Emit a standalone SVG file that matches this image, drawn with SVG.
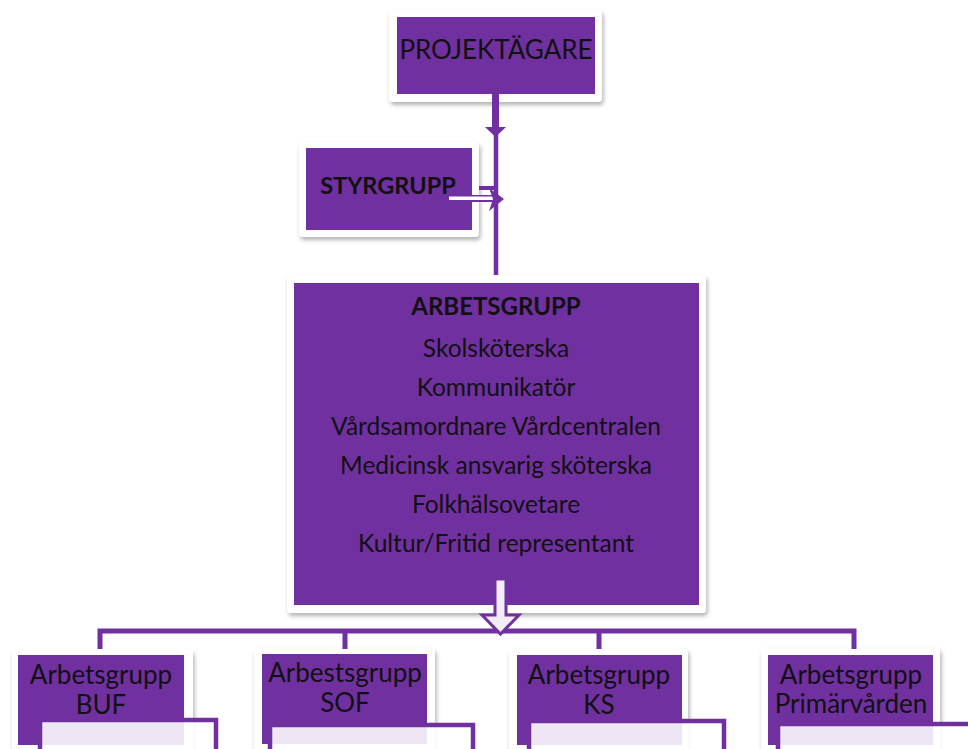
<svg xmlns="http://www.w3.org/2000/svg" width="968" height="749" viewBox="0 0 968 749">
<defs>
<filter id="sh" x="-10%" y="-10%" width="125%" height="130%">
<feDropShadow dx="1.5" dy="3" stdDeviation="2" flood-color="#000" flood-opacity="0.3"/>
</filter>
<style>
.frame{fill:#fff;filter:url(#sh)}
.box{fill:#7030a0}
.sub{fill:#fff;fill-opacity:0.88;stroke:#7030a0;stroke-width:4.5}
.t{font-family:Lato,"Open Sans",sans-serif;fill:#111;text-anchor:middle}
.b{font-weight:bold}
.ln{stroke:#7030a0;fill:none}
</style>
</defs>
<rect width="968" height="749" fill="#fff"/>

<g id="projektagare">
<rect class="frame" x="389" y="10" width="213" height="92" rx="4"/>
<rect class="box" x="397" y="17" width="198" height="77"/>
<text class="t" x="496" y="59" font-size="26">PROJEKTÄGARE</text>
</g>

<g id="styrgrupp">
<rect class="frame" x="299" y="142" width="180" height="95" rx="4"/>
<rect class="box" x="306" y="148" width="166" height="82"/>
<text class="t" x="388" y="194" font-size="23.5" font-weight="bold">STYRGRUPP</text>
</g>

<g id="arbetsgrupp">
<rect class="frame" x="287" y="275" width="419" height="338" rx="4"/>
<rect class="box" x="294" y="283" width="405" height="322"/>
<text class="t" x="496" y="315" font-size="24" font-weight="bold">ARBETSGRUPP</text>
<text class="t" x="496" y="357" font-size="24.5">Skolsköterska</text>
<text class="t" x="496" y="396" font-size="24.5">Kommunikatör</text>
<text class="t" x="496" y="435" font-size="24.5">Vårdsamordnare Vårdcentralen</text>
<text class="t" x="496" y="474" font-size="24.5">Medicinsk ansvarig sköterska</text>
<text class="t" x="496" y="513" font-size="24.5">Folkhälsovetare</text>
<text class="t" x="496" y="552" font-size="24.5">Kultur/Fritid representant</text>
</g>

<g id="buf">
<rect class="frame" x="12" y="650" width="181" height="108" rx="4"/>
<rect class="box" x="18" y="655" width="166" height="90"/>
<text class="t" x="101" y="684" font-size="26">Arbetsgrupp</text>
<text class="t" x="101" y="714" font-size="26">BUF</text>
<rect class="sub" x="40" y="720" width="176" height="50"/>
</g>

<g id="sof">
<rect class="frame" x="254" y="648" width="181" height="110" rx="4"/>
<rect class="box" x="262" y="654" width="165" height="90"/>
<text class="t" x="345" y="682" font-size="26">Arbestsgrupp</text>
<text class="t" x="345" y="712" font-size="26">SOF</text>
<rect class="sub" x="270" y="725" width="203" height="50"/>
</g>

<g id="ks">
<rect class="frame" x="509" y="649" width="179" height="110" rx="4"/>
<rect class="box" x="517" y="655" width="165" height="90"/>
<text class="t" x="599" y="684" font-size="26">Arbetsgrupp</text>
<text class="t" x="599" y="714" font-size="26">KS</text>
<rect class="sub" x="529" y="721" width="195" height="50"/>
</g>

<g id="primarvarden">
<rect class="frame" x="761" y="648" width="179" height="110" rx="4"/>
<rect class="box" x="768" y="655" width="165" height="90"/>
<text class="t" x="851" y="684" font-size="26">Arbetsgrupp</text>
<text class="t" x="851" y="713" font-size="26">Primärvården</text>
<rect class="sub" x="778" y="724" width="200" height="50"/>
</g>

<g id="connectors">
<line class="ln" x1="495.5" y1="94" x2="495.5" y2="129" stroke-width="7"/>
<polygon points="485,127 506,127 495.5,137" fill="#7030a0"/>
<line class="ln" x1="496" y1="134" x2="496" y2="275" stroke-width="4.5"/>
<line class="ln" x1="479" y1="188" x2="497" y2="188" stroke-width="4"/>
<rect x="449" y="195" width="44" height="7" fill="#7030a0"/>
<rect x="449" y="196.5" width="44" height="3.5" fill="#fff"/>
<polygon points="489,188 504,199 489,211 493,199" fill="#7030a0"/>
<path class="ln" d="M100,649 V631 H854 V649 M345,631 V649 M599,631 V649" stroke-width="5"/>
<polygon points="495,579 506,579 506,615 519,615 500.5,634 482,615 495,615" fill="#f1ecf6" stroke="#7030a0" stroke-width="3"/>
</g>
</svg>
